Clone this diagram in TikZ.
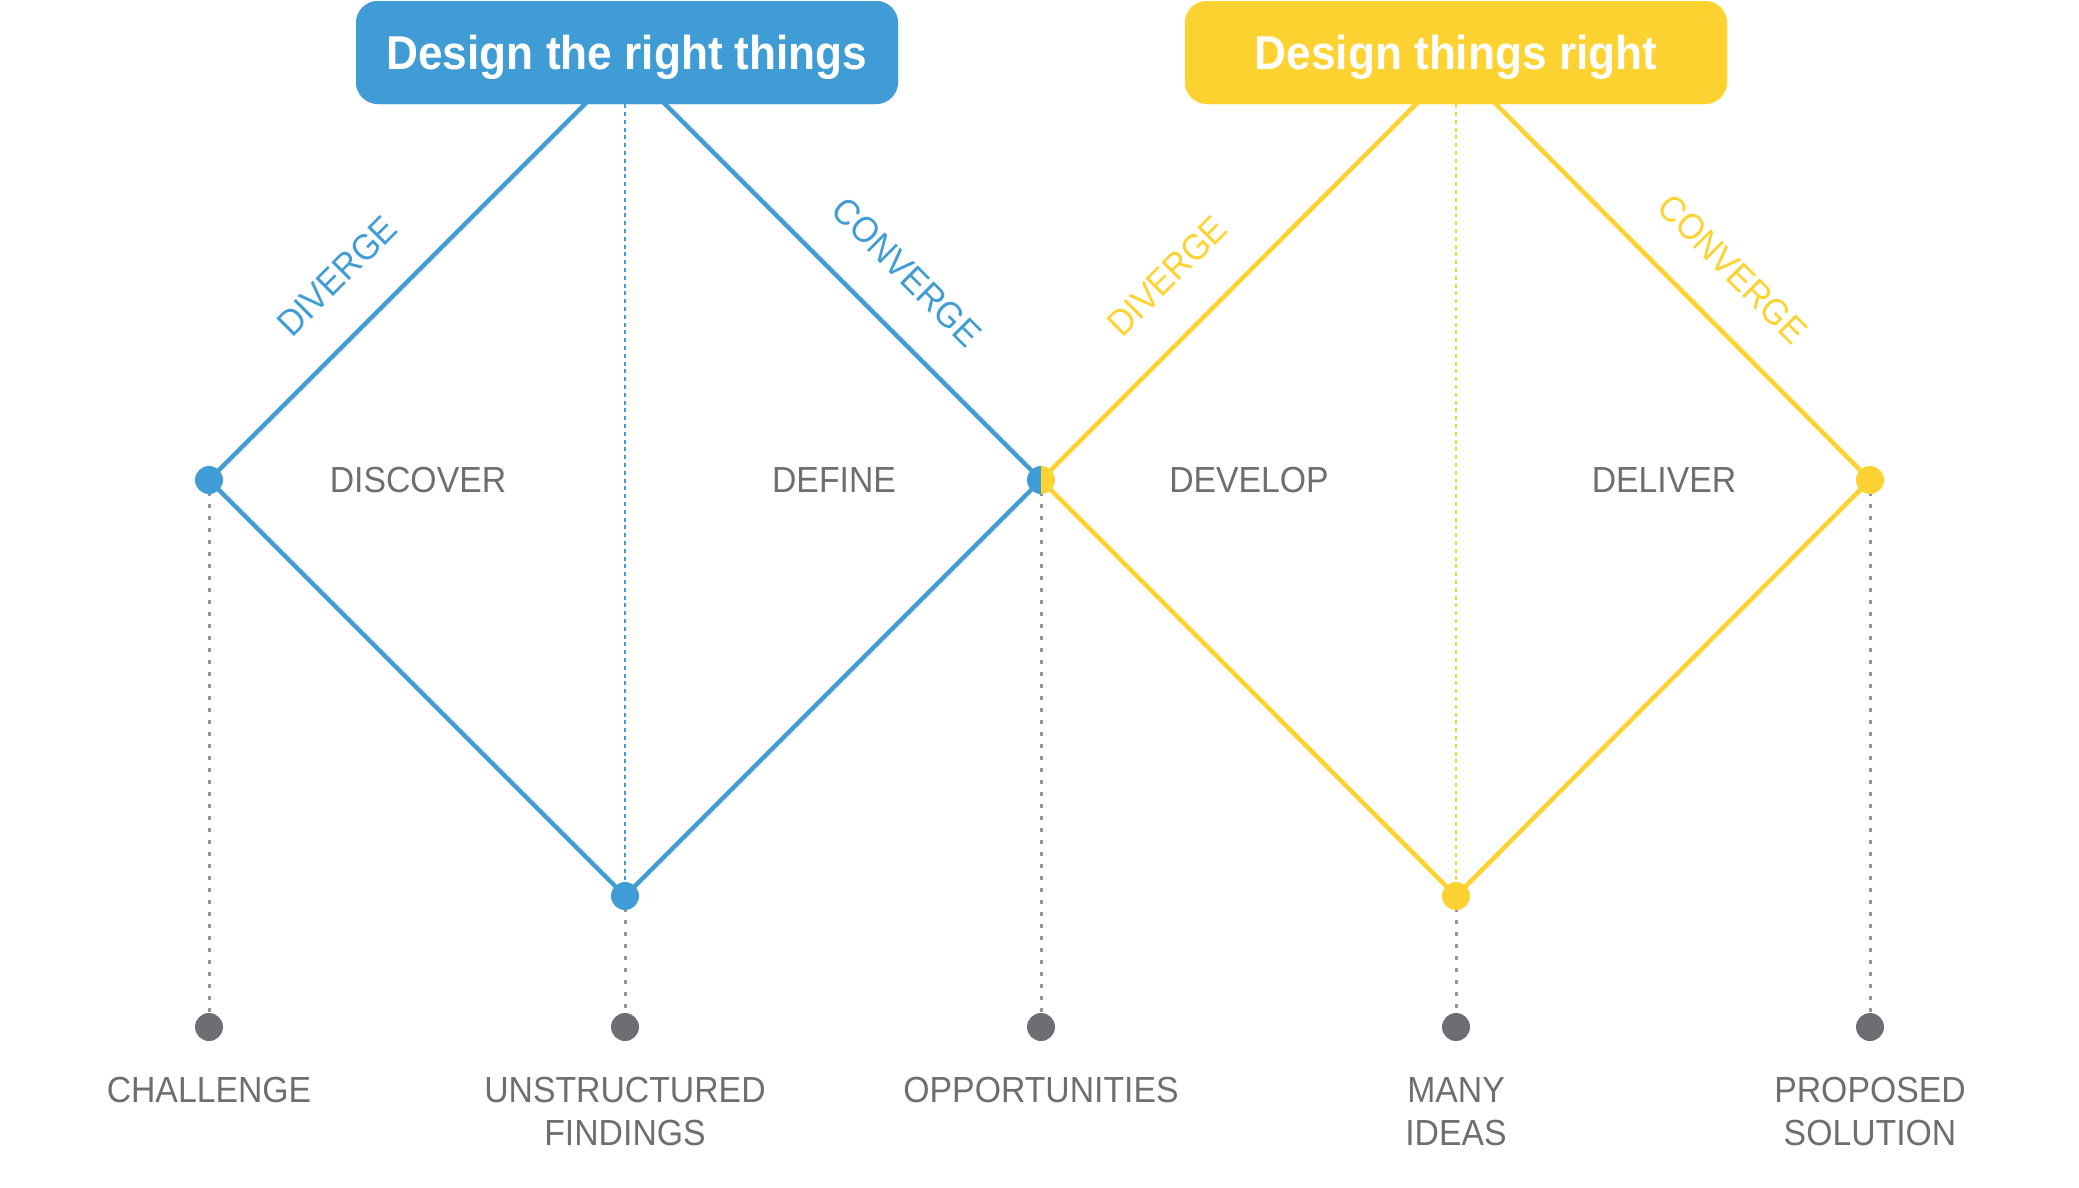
\documentclass[tikz,border=0pt]{standalone}
\usepackage{fontspec}
\setmainfont[FakeStretch=0.93]{Liberation Sans}
\definecolor{cblue}{RGB}{64,156,212}
\definecolor{cyellow}{RGB}{254,210,48}
\definecolor{ctext}{RGB}{109,110,113}
\definecolor{cdash}{RGB}{150,150,150}
\begin{document}
\begin{tikzpicture}[x=1pt,y=-1pt,
  dot/.style={circle,inner sep=0pt,minimum size=28pt},
  bdot/.style={dot,fill=cblue},
  ydot/.style={dot,fill=cyellow},
  gdot/.style={dot,fill=ctext},
  diamondline/.style={line width=4.5pt,line join=round},
  grayline/.style={draw=cdash,line width=3pt,dash pattern=on 3.7pt off 8.3pt},
  colline/.style={line width=2.8pt,dash pattern=on 4pt off 3.8pt},
  titlebox/.style={rounded corners=22pt,minimum width=542pt,minimum height=103pt,inner sep=0pt,
     text=white,font=\fontsize{47.5}{50}\selectfont\bfseries,text height=34pt,text depth=0pt},
  phase/.style={text=ctext,font=\fontsize{36.3}{43}\selectfont,anchor=base,inner sep=0pt},
  outlbl/.style={text=ctext,font=\fontsize{36.3}{43}\selectfont,anchor=north,align=center,inner sep=0pt},
  dirlbl/.style={font=\fontsize{36.3}{43}\selectfont,inner sep=0pt,anchor=center}
]
\useasboundingbox (0,0) rectangle (2079,1187);

% key points
\coordinate (v1) at (209,480);
\coordinate (v2) at (625,896);
\coordinate (v3) at (1041,480);
\coordinate (v4) at (1456,896);
\coordinate (v5) at (1870,480);
\coordinate (btop) at (625,64);
\coordinate (ytop) at (1456,64);

% gray dots (outcomes)
\node[gdot] (g1) at (209,1027) {};
\node[gdot] (g2) at (625,1027) {};
\node[gdot] (g3) at (1041,1027) {};
\node[gdot] (g4) at (1456,1027) {};
\node[gdot] (g5) at (1870,1027) {};

% gray dashed drops
\draw[grayline] (v1) -- (g1);
\draw[grayline] (v2) -- (g2);
\draw[grayline] (v3) -- (g3);
\draw[grayline] (v4) -- (g4);
\draw[grayline] (v5) -- (g5);

% title boxes
\node[titlebox,fill=cblue] (t1) at (627,52.5) {Design the right things};
\node[titlebox,fill=cyellow] (t2) at (1456,52.5) {Design things right};

% colored dotted center lines
\draw[colline,draw=cblue] (t1.south -| v2) -- (v2);
\draw[colline,draw=cyellow] (t2.south -| v4) -- (v4);

% diamonds
\begin{scope}
\draw[diamondline,draw=cblue] (v1) -- (btop) -- (v3) -- (v2) -- cycle;
\draw[diamondline,draw=cyellow] (v3) -- (ytop) -- (v5) -- (v4) -- cycle;
\end{scope}

% redraw title boxes on top of diamond tops
\node[titlebox,fill=cblue] at (627,52.5) {Design the right things};
\node[titlebox,fill=cyellow] at (1456,52.5) {Design things right};

% vertex dots
\node[bdot] (d1) at (v1) {};
\node[bdot] (d2) at (v2) {};
\node[ydot] (d4) at (v4) {};
\node[ydot] (d5) at (v5) {};
\begin{scope}
\clip (1027,466) rectangle (1041,494);
\fill[cblue] (v3) circle[radius=14pt];
\end{scope}
\begin{scope}
\clip (1041,466) rectangle (1055,494);
\fill[cyellow] (v3) circle[radius=14pt];
\end{scope}
\node[dot] (d3) at (v3) {};

% phase labels
\node[phase] (p1) at (418,492) {DISCOVER};
\node[phase] (p2) at (834,492) {DEFINE};
\node[phase] (p3) at (1249,492) {DEVELOP};
\node[phase] (p4) at (1664,492) {DELIVER};

% direction labels
\node[dirlbl,text=cblue,rotate=45] (l1) at (337,276) {DIVERGE};
\node[dirlbl,text=cblue,rotate=-45] (l2) at (907,272) {CONVERGE};
\node[dirlbl,text=cyellow,rotate=45] (l3) at (1167,276) {DIVERGE};
\node[dirlbl,text=cyellow,rotate=-45] (l4) at (1733,269) {CONVERGE};

% outcome labels
\node[outlbl] (o1) at (209,1077) {CHALLENGE};
\node[outlbl] (o2) at (625,1077) {UNSTRUCTURED\\FINDINGS};
\node[outlbl] (o3) at (1041,1077) {OPPORTUNITIES};
\node[outlbl] (o4) at (1456,1077) {MANY\\IDEAS};
\node[outlbl] (o5) at (1870,1077) {PROPOSED\\SOLUTION};
\end{tikzpicture}
\end{document}
